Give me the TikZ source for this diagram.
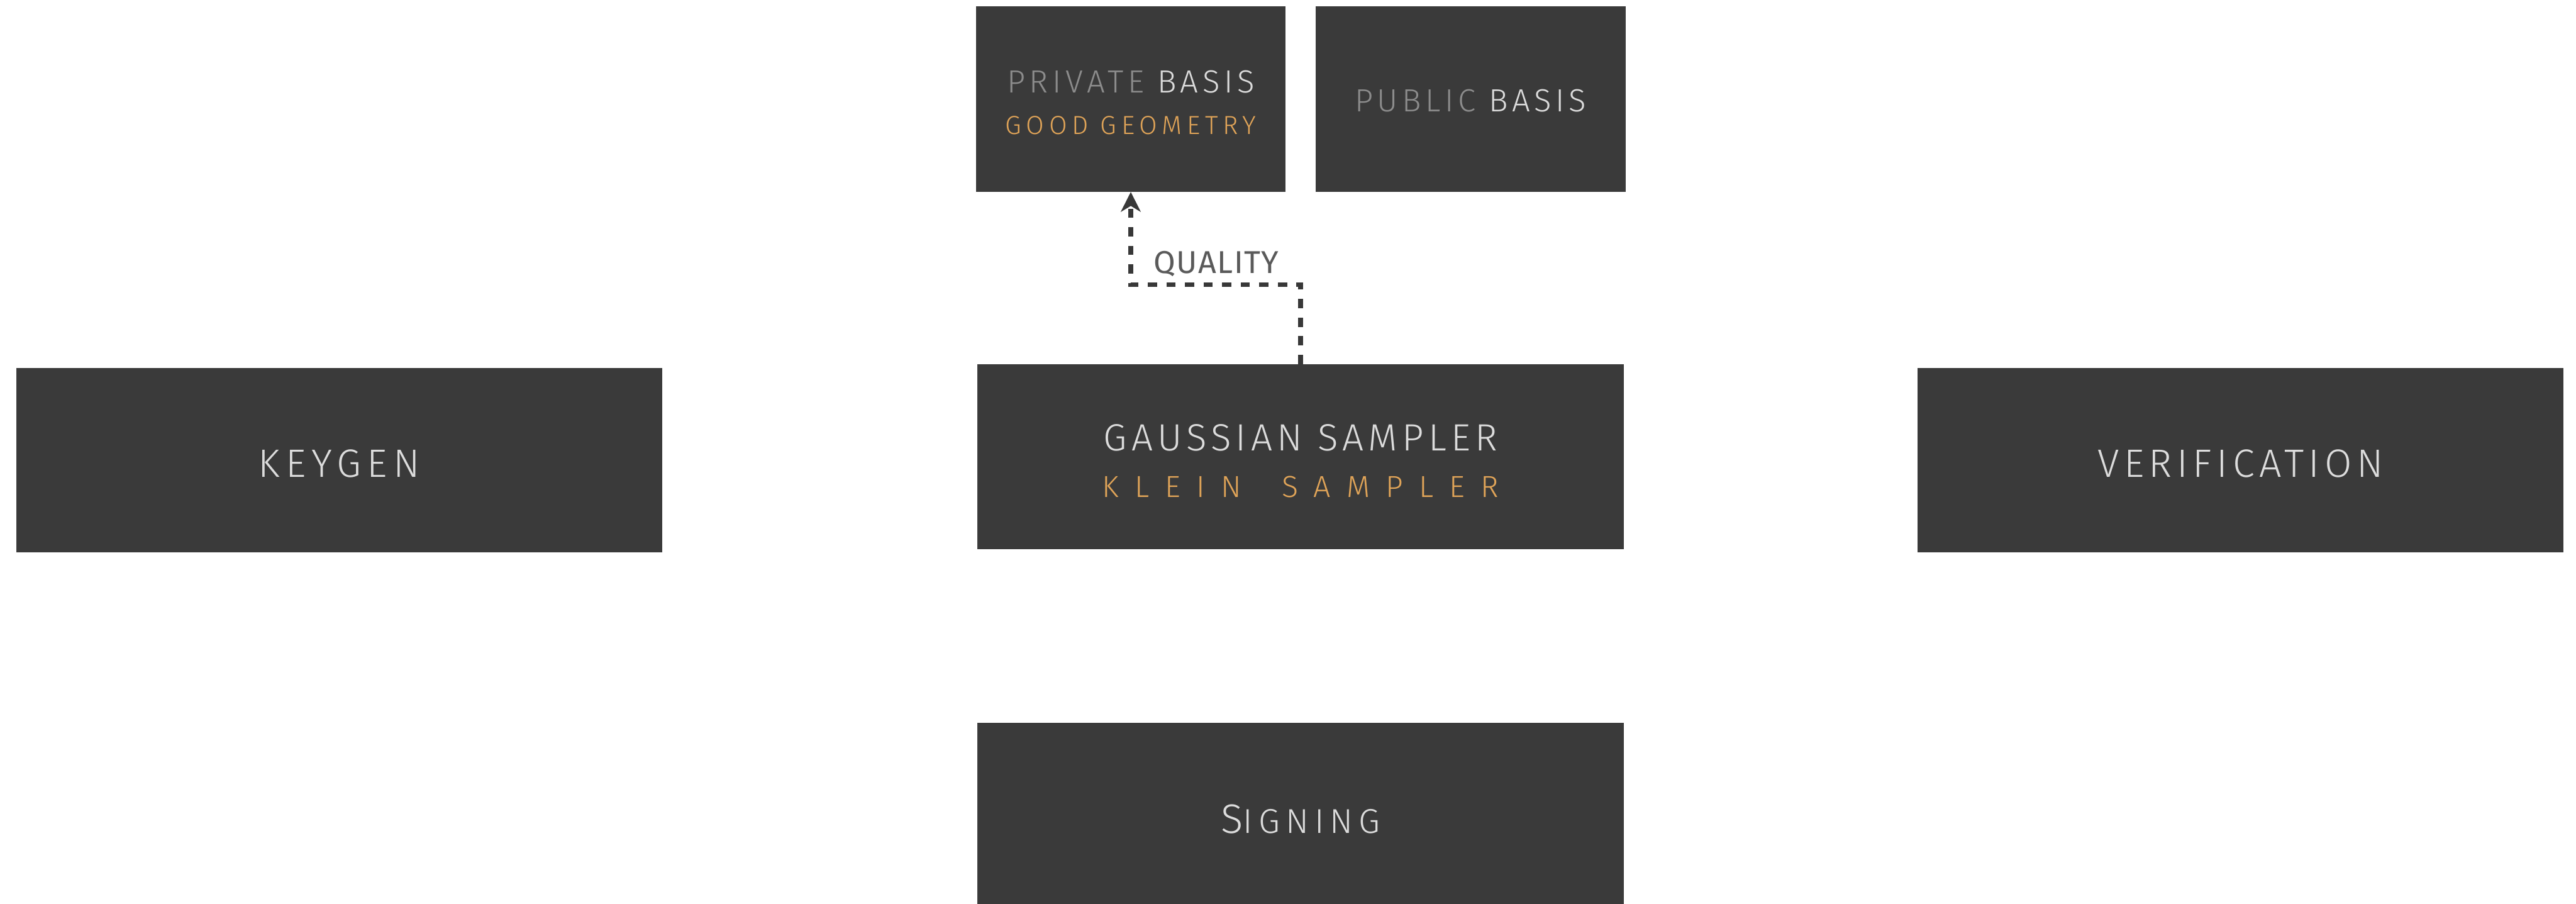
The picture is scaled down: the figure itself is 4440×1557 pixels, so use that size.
\documentclass[tikz,border=0pt]{standalone}
\usepackage{fontspec}
\setmainfont{Fira Sans Light}
\newfontfamily\labelfont{Fira Sans}
\usetikzlibrary{arrows.meta}

\definecolor{boxgray}{HTML}{3A3A3A}
\definecolor{textlight}{HTML}{DCDCDC}
\definecolor{textmid}{HTML}{8C8C8C}
\definecolor{accent}{HTML}{E0A458}
\definecolor{labelgray}{HTML}{5A5A5A}
\definecolor{linegray}{HTML}{383838}

\newcommand{\tracked}[2]{{\addfontfeature{LetterSpace=#1}#2}}
\newcommand{\lift}[1]{\rule{0pt}{#1}}

\tikzset{
  block/.style={fill=boxgray, text=textlight, inner sep=0pt, align=center,
    minimum width=11.13cm, minimum height=3.18cm},
  smallblock/.style={block, minimum width=5.34cm, minimum height=3.19cm},
  link/.style={draw=linegray, line width=0.08cm, dash pattern=on 0.16cm off 0.16cm,
    -{Stealth[length=0.34cm, width=0.34cm, inset=0.1cm]}},
}

\begin{document}
\begin{tikzpicture}[x=0.01cm, y=-0.01cm]
  \useasboundingbox (0,0) rectangle (4440,1557);

  % Key material
  \node (priv) [smallblock] at (1949,170.5)
    {\lift{0.51cm}\fontsize{15.7}{22}\selectfont\tracked{13}{\textcolor{textmid}{PRIVATE} BASIS}\\[0.29cm]
     \fontsize{12.8}{18}\selectfont\tracked{18.5}{\textcolor{accent}{GOOD GEOMETRY}}};
  \node (pub) [smallblock] at (2534.5,170.5)
    {\lift{0.45cm}\fontsize{15.7}{22}\selectfont\tracked{13}{\textcolor{textmid}{PUBLIC} BASIS}};

  % Main stages
  \node (keygen) [block] at (584.5,793)
    {\lift{0.6cm}\fontsize{19.4}{24}\selectfont\tracked{14.5}{KEYGEN}};
  \node (sampler) [block] at (2241.5,787)
    {\lift{0.6cm}\fontsize{18.6}{24}\selectfont\tracked{12}{GAUSSIAN SAMPLER}\\[0.37cm]
     \fontsize{14.9}{20}\selectfont\tracked{52}{\textcolor{accent}{KLEIN\hspace{0.28cm} SAMPLER}}};
  \node (verify) [block] at (3861.5,793)
    {\lift{0.6cm}\fontsize{19.4}{24}\selectfont\tracked{12}{VERIFICATION}};
  \node (signing) [block] at (2241.5,1405)
    {\lift{0.62cm}\tracked{16.5}{\fontsize{20.2}{24}\selectfont S\fontsize{16.9}{24}\selectfont IGNING}};

  % Quality feedback to the private basis
  \draw[link] (sampler.north) -- ++(0,-137) -| (priv.south);
  \node (quality) [anchor=west, inner sep=0pt, text=labelgray] at (1988,455)
    {\labelfont\fontsize{15.5}{20}\selectfont\tracked{3}{QUALITY}};
\end{tikzpicture}
\end{document}
